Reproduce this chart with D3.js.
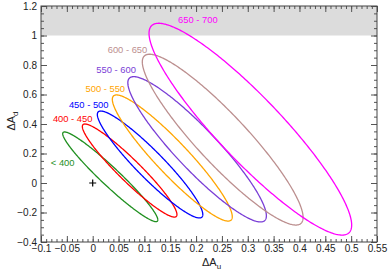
<!DOCTYPE html>
<meta charset="utf-8">
<head>
  <style>
    body { margin: 0; background: #fff; font-family: "Liberation Sans", Arial, sans-serif; }
    .tick text { font-size: 10px; fill: #222; }
    .elabel { font-size: 9.4px; }
  </style>
</head>
<body>
  <div class="chart"></div>
  <script src="https://d3js.org/d3.v7.min.js"></script>
  <script>
    // ellipse bounds: [xmin, xmax, ymin, ymax], rho = tilt
    var bins   = ["< 400", "400 - 450", "450 - 500", "500 - 550", "550 - 600", "600 - 650", "650 - 700"];
    var xmin   = [-0.058, -0.020, 0.009, 0.038, 0.068, 0.096, 0.109];
    var xmax   = [0.126, 0.163, 0.213, 0.270, 0.336, 0.407, 0.501];
    var ymin   = [-0.262, -0.231, -0.237, -0.258, -0.264, -0.285, -0.353];
    var ymax   = [0.346, 0.400, 0.488, 0.597, 0.721, 0.873, 1.083];
    var rho    = [-0.96, -0.945, -0.935, -0.93, -0.915, -0.91, -0.905];
    var colors = ["#1f8f1f", "#ff0000", "#0000ff", "#ffa500", "#7a3ed6", "#bc8f8f", "#ff00ff"];
    // label anchors (data coords, start of text)
    var labX   = [-0.081, -0.077, -0.046, -0.014, 0.007, 0.029, 0.165];
    var labY   = [0.140, 0.439, 0.534, 0.637, 0.766, 0.902, 1.105];

    var xTicks = [-0.1, -0.05, 0, 0.05, 0.1, 0.15, 0.2, 0.25, 0.3, 0.35, 0.4, 0.45, 0.5, 0.55];
    var yTicks = [-0.4, -0.2, 0, 0.2, 0.4, 0.6, 0.8, 1, 1.2];
    var band   = [1.0, 1.2];
    var nominal = [0, 0];

    var W = 391, H = 273;
    var margin = { top: 6, right: 14, bottom: 31, left: 41 };
    var width = W - margin.left - margin.right,
        height = H - margin.top - margin.bottom;

    var x = d3.scaleLinear().domain([-0.1, 0.55]).range([0, width]);
    var y = d3.scaleLinear().domain([-0.4, 1.2]).range([height, 0]);

    var svg = d3.select(".chart").append("svg")
        .attr("width", W).attr("height", H)
      .append("g")
        .attr("transform", "translate(" + margin.left + "," + margin.top + ")");

    svg.append("defs").append("clipPath").attr("id", "clip")
      .append("rect").attr("width", width).attr("height", height);

    // excluded band
    svg.append("rect")
        .attr("x", 0).attr("width", width)
        .attr("y", y(band[1])).attr("height", y(band[0]) - y(band[1]))
        .attr("fill", "#dcdcdc");

    // ellipses
    var line = d3.line().x(function(p) { return x(p[0]); }).y(function(p) { return y(p[1]); });
    var ts = d3.range(0, 2 * Math.PI + 0.001, Math.PI / 180);
    var g = svg.append("g").attr("clip-path", "url(#clip)");
    bins.forEach(function(b, i) {
      var cx = (xmin[i] + xmax[i]) / 2, cy = (ymin[i] + ymax[i]) / 2;
      var sx = (xmax[i] - xmin[i]) / 2, sy = (ymax[i] - ymin[i]) / 2;
      var phi = Math.acos(rho[i]);
      var pts = ts.map(function(t) { return [cx + sx * Math.cos(t), cy + sy * Math.cos(t + phi)]; });
      g.append("path")
          .attr("d", line(pts))
          .attr("fill", "none")
          .attr("stroke", colors[i])
          .attr("stroke-width", 1.3);
      svg.append("text")
          .attr("class", "elabel")
          .attr("x", x(labX[i])).attr("y", y(labY[i]))
          .attr("dy", "0.35em")
          .attr("fill", colors[i])
          .text(b);
    });

    // nominal point
    svg.append("path")
        .attr("d", "M" + (x(nominal[0]) - 3.5) + "," + y(nominal[1]) + "h7M" + x(nominal[0]) + "," + (y(nominal[1]) - 3.5) + "v7")
        .attr("stroke", "#000").attr("stroke-width", 1.2);

    // axes: ticks inside on all sides
    var xMinor = d3.range(-0.1, 0.5501, 0.01);
    var yMinor = d3.range(-0.4, 1.2001, 0.05);
    function styleAxis(sel) {
      sel.select(".domain").remove();
      sel.selectAll(".tick line").attr("stroke", "#555");
    }
    var fmt = function(d) { return d3.format("")(+d.toFixed(2)); };

    svg.append("g").attr("transform", "translate(0," + height + ")")
        .call(d3.axisBottom(x).tickValues(xMinor).tickSize(-3).tickFormat("")).call(styleAxis);
    svg.append("g").attr("transform", "translate(0," + height + ")")
        .call(d3.axisBottom(x).tickValues(xTicks).tickSize(-6).tickPadding(3).tickFormat(fmt)).call(styleAxis);
    svg.append("g")
        .call(d3.axisTop(x).tickValues(xMinor).tickSize(-3).tickFormat("")).call(styleAxis);
    svg.append("g")
        .call(d3.axisTop(x).tickValues(xTicks).tickSize(-6).tickFormat("")).call(styleAxis);

    svg.append("g")
        .call(d3.axisLeft(y).tickValues(yMinor).tickSize(-3).tickFormat("")).call(styleAxis);
    svg.append("g")
        .call(d3.axisLeft(y).tickValues(yTicks).tickSize(-6).tickPadding(4).tickFormat(fmt)).call(styleAxis);
    svg.append("g").attr("transform", "translate(" + width + ",0)")
        .call(d3.axisRight(y).tickValues(yMinor).tickSize(-3).tickFormat("")).call(styleAxis);
    svg.append("g").attr("transform", "translate(" + width + ",0)")
        .call(d3.axisRight(y).tickValues(yTicks).tickSize(-6).tickFormat("")).call(styleAxis);

    svg.append("rect")
        .attr("width", width).attr("height", height)
        .attr("fill", "none").attr("stroke", "#444").attr("stroke-width", 1);

    // axis titles
    var xt = svg.append("text")
        .attr("x", x(0.23)).attr("y", height + 24)
        .attr("font-size", 11).attr("fill", "#222").attr("text-anchor", "middle");
    xt.append("tspan").text("ΔA");
    xt.append("tspan").attr("font-size", 8).attr("dy", 3).text("u");

    var yt = svg.append("text")
        .attr("transform", "translate(" + (-26) + "," + y(0.42) + ") rotate(-90)")
        .attr("font-size", 11).attr("fill", "#222").attr("text-anchor", "middle");
    yt.append("tspan").text("ΔA");
    yt.append("tspan").attr("font-size", 8).attr("dy", 3).text("d");
  </script>
</body>
